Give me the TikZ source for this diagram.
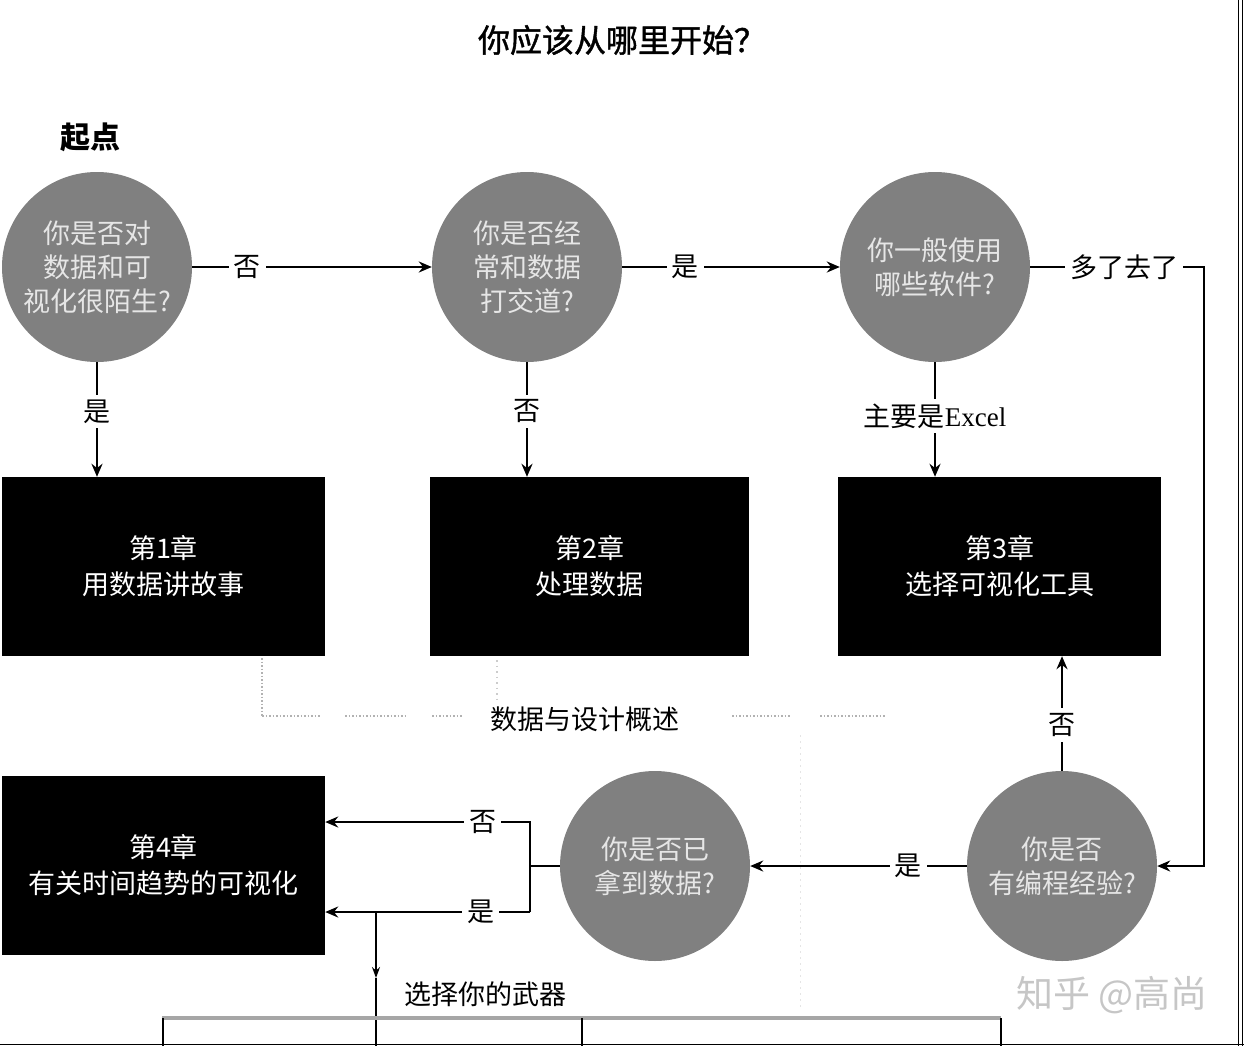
\documentclass[tikz,border=0pt]{standalone}
\usepackage{fontspec}
\setmainfont{Liberation Serif}
\newfontfamily\cjk{Noto Sans CJK SC}
\newfontfamily\cjkmed[FakeBold=1.3]{Noto Sans CJK SC}
\usetikzlibrary{arrows.meta}
\definecolor{qgray}{HTML}{808080}
\definecolor{qtext}{HTML}{E6E6E6}
\begin{document}
\begin{tikzpicture}[x=1pt,y=-1pt,
  q/.style={circle,fill=qgray,minimum size=190pt,inner sep=0pt,text=qtext,font=\cjk\fontsize{27}{34}\selectfont,align=center},
  chap/.style={rectangle,fill=black,minimum width=323pt,minimum height=179pt,inner sep=0pt,text=white,font=\cjk\fontsize{27}{36}\selectfont,align=center},
  arr/.style={line width=2.5pt,-{Stealth[length=13pt,width=11pt]}},
  thinarr/.style={line width=1.5pt,-{Stealth[length=11pt,width=8pt]}},
  ln/.style={line width=2.5pt},
  lbl/.style={fill=white,inner sep=5pt,font=\cjk\fontsize{27}{30}\selectfont,text=black},
  plain/.style={font=\cjk\fontsize{27}{30}\selectfont,text=black},
  dots/.style={line width=2pt,gray!60,dash pattern=on 1.5pt off 2pt},
]
\useasboundingbox (0,0) rectangle (1244,1046);
% frame
\draw[line width=1pt] (1238.7,0) -- (1238.7,1046);
\draw[line width=1pt] (1242.7,0) -- (1242.7,1046);
\draw[line width=1.2pt] (0,1044.7) -- (1244,1044.7);

\node[font=\cjkmed\fontsize{32}{36}\selectfont] (title) at (622,40) {你应该从哪里开始？};
\node[font=\cjk\bfseries\fontsize{30}{34}\selectfont] (start) at (90,137) {起点};

% question circles
\node[q] (c1) at (97,267) {你是否对\\数据和可\\视化很陌生?};
\node[q] (c2) at (527,267) {你是否经\\常和数据\\打交道?};
\node[q] (c3) at (935,267) {你一般使用\\哪些软件?};
\node[q] (c4) at (655,866) {你是否已\\拿到数据?};
\node[q] (c5) at (1062,866) {你是否\\有编程经验?};

% chapter boxes
\node[chap] (b1) at (163.5,566.5) {第1章\\用数据讲故事};
\node[chap,minimum width=319pt] (b2) at (589.5,566.5) {第2章\\处理数据};
\node[chap] (b3) at (999.5,566.5) {第3章\\选择可视化工具};
\node[chap] (b4) at (163.5,865.5) {第4章\\有关时间趋势的可视化};

% dotted overview lines
\draw[dots] (262,658) -- (262,716);
\draw[dots] (262,716) -- (320,716);
\draw[dots] (345,716) -- (405,716);
\draw[dots] (432,716) -- (462,716);
\draw[dots] (732,716) -- (790,716);
\draw[dots] (820,716) -- (885,716);
\draw[line width=1.2pt,gray!40,dash pattern=on 1.5pt off 4pt] (497,660) -- (497,700);
\draw[line width=1pt,gray!20,dash pattern=on 2pt off 4pt] (800,735) -- (800,1010);
\node[plain] (overview) at (585,719) {数据与设计概述};

% connectors
\coordinate (k1) at (1204,267);
\coordinate (k2) at (1204,866);
\draw[arr] (c1) -- node[lbl,pos=0.23]{否} (c2);
\draw[arr] (c2) -- node[lbl,pos=0.29]{是} (c3);
\draw[arr] (c3) -- node[lbl,pos=0.54]{多了去了} (k1) -- (k2) -- (c5);
\draw[arr] (c1) -- node[lbl,pos=0.43]{是} (c1 |- b1.north);
\draw[arr] (c2) -- node[lbl,pos=0.43]{否} (c2 |- b2.north);
\draw[arr] (c3) -- node[lbl,pos=0.47]{主要是{\rmfamily Excel}} (c3 |- b3.north);
\draw[arr] (c5.north) -- node[lbl,pos=0.4]{否} (c5.north |- b3.south);
\draw[arr] (c5) -- node[lbl,pos=0.27]{是} (c4);

\coordinate (j) at (530,866);
\coordinate (j1) at (530,822);
\coordinate (j2) at (530,912);
\draw[ln] (c4) -- (j);
\draw[arr] (j2) -- (j1) -- node[lbl,pos=0.23]{否} (b4.east |- j1);
\draw[arr] (j2) -- node[lbl,pos=0.24]{是} (b4.east |- j2);

% weapon branch
\coordinate (v0) at (376,912);
\coordinate (v1) at (376,978);
\coordinate (v2) at (376,1046);
\draw[thinarr] (v0) -- (v1);
\draw[line width=1.5pt] (v1) -- (v2);
\node[plain] (weapon) at (485,994) {选择你的武器};
\draw[line width=4pt,gray!70] (162,1018) -- (1001,1018);
\draw[line width=1.5pt] (163,1018) -- (163,1046);
\draw[line width=1.5pt] (582,1018) -- (582,1046);
\draw[line width=1.5pt] (1001,1018) -- (1001,1046);

% watermark
\node[text=gray!45,font=\cjk\fontsize{37}{40}\selectfont] (wm) at (1112,995) {知乎 @高尚};
\end{tikzpicture}
\end{document}
